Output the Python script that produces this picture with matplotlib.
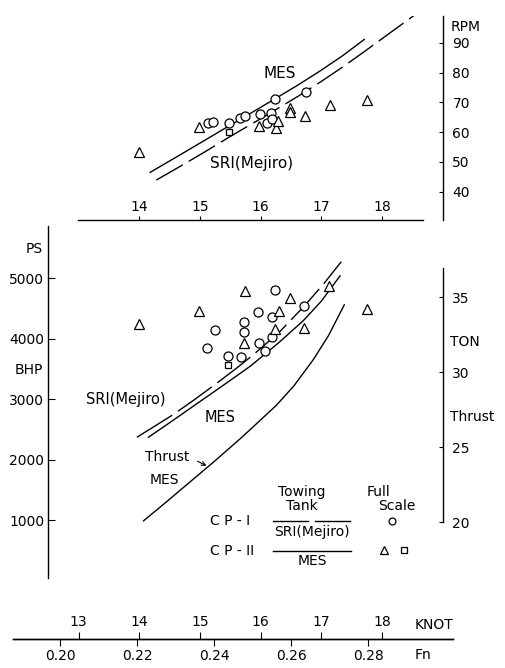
import matplotlib
matplotlib.use("Agg")
import matplotlib.pyplot as plt
from matplotlib.lines import Line2D
from matplotlib.ticker import FixedLocator

# ---- data, speed in knots ----
# upper panel: propeller revolutions (RPM)
rpm_circ_kn = [15.13, 15.22, 15.48, 15.66, 15.75, 15.99, 16.10, 16.17, 16.18, 16.24, 16.75]
rpm_circ = [63.0, 63.5, 63.0, 64.8, 65.3, 66.2, 63.0, 66.5, 64.5, 71.0, 73.3]
rpm_tri_kn = [14.0, 14.98, 15.98, 16.25, 16.29, 16.48, 16.49, 16.73, 17.14, 17.75]
rpm_tri = [53.2, 61.8, 62.0, 61.5, 63.8, 68.2, 66.6, 65.3, 69.1, 70.8]
rpm_sq_kn = [15.48]
rpm_sq = [60.1]
rpm_mes_kn = [14.18, 14.6, 15.0, 15.49, 15.9, 16.24, 16.6, 16.98, 17.35, 17.71]
rpm_mes = [46.5, 51.5, 56.3, 62.2, 67.1, 71.2, 75.6, 80.5, 85.6, 91.1]
rpm_sri_kn = [14.28, 14.7, 15.1, 15.48, 15.9, 16.24, 16.6, 17.0, 17.35, 17.71, 18.1, 18.54]
rpm_sri = [43.9, 48.8, 53.6, 58.3, 63.3, 67.4, 71.8, 77.0, 81.8, 87.0, 92.8, 99.3]

# lower panel: brake horse power (PS) and thrust (TON)
bhp_circ_kn = [16.24, 16.72, 15.95, 16.18, 15.73, 15.73, 15.24, 15.12, 15.98, 16.18, 16.07, 15.47, 15.67]
bhp_circ = [4806, 4546, 4436, 4364, 4281, 4116, 4144, 3841, 3924, 4033, 3802, 3714, 3692]
bhp_tri_kn = [14.0, 14.99, 15.74, 15.73, 16.31, 16.24, 16.48, 16.71, 17.13, 17.75]
bhp_tri = [4238, 4459, 4795, 3924, 4453, 4165, 4669, 4182, 4872, 4487]
bhp_sq_kn = [15.47]
bhp_sq = [3565]
bhp_sri_kn = [13.96, 14.25, 14.56, 14.9, 15.28, 15.6, 15.88, 16.3, 16.72, 17.05, 17.33]
bhp_sri = [2369, 2550, 2745, 2985, 3265, 3510, 3735, 4100, 4540, 4920, 5274]
bhp_mes_kn = [14.15, 14.5, 15.0, 15.4, 15.83, 16.3, 16.7, 17.0, 17.31]
bhp_mes = [2369, 2610, 2960, 3240, 3545, 3935, 4295, 4620, 5040]
thr_mes_kn = [14.07, 14.4, 14.78, 15.22, 15.7, 16.26, 16.55, 16.87, 17.12, 17.38]
thr_mes = [20.1, 21.2, 22.5, 24.0, 25.7, 27.8, 29.1, 30.85, 32.45, 34.5]

knot_ticks = [13, 14, 15, 16, 17, 18]
fn_ticks = [0.20, 0.22, 0.24, 0.26, 0.28]
FN_PER_KNOT = 0.015754

# ---- layout helpers (pixels of the 505x668 picture) ----
W, H = 505, 668


def kn(px):
    return 14 + (px - 139.3) / 60.65


def box(x0, y0, x1, y1):
    return [x0 / W, 1 - y1 / H, (x1 - x0) / W, (y1 - y0) / H]


def P(px, py):
    return (px / W, 1 - py / H)


def rpm_at(py):
    return 40 + (191.7 - py) / 2.98


def ps_at(py):
    return 1000 + (520 - py) / 60.43 * 1000


def ton_at(py):
    return 20 + (522.3 - py) / 15.0


plt.rcParams['font.family'] = ['DejaVu Sans']
plt.rcParams['font.size'] = 10
LW = 1.0
mk = dict(ls='none', mfc='white', mec='black', mew=0.9, zorder=3)

fig = plt.figure(figsize=(5.05, 6.68), dpi=100)

# ---- upper panel ----
ax1 = fig.add_axes(box(78, 16, 442.7, 220))
ax1.set_xlim(kn(78), kn(442.7))
ax1.set_ylim(rpm_at(220), rpm_at(16))
ax1.patch.set_visible(False)
for s in ['left', 'top']:
    ax1.spines[s].set_visible(False)
ax1.spines['bottom'].set_bounds(kn(78), kn(423))
ax1.spines['bottom'].set_linewidth(1.0)
ax1.spines['right'].set_linewidth(1.0)
ax1.yaxis.tick_right()
ax1.set_yticks([40, 50, 60, 70, 80, 90])
ax1.tick_params(axis='y', direction='in', length=3, pad=7, labelsize=10)
ax1.set_xticks([14, 15, 16, 17, 18])
ax1.tick_params(axis='x', direction='in', length=3, pad=-14.5, labelsize=10)

ax1.plot(rpm_mes_kn, rpm_mes, color='black', lw=LW)
ax1.plot(rpm_sri_kn, rpm_sri, color='black', lw=LW, dashes=(22, 5))
ax1.plot(rpm_circ_kn, rpm_circ, marker='o', ms=6.5, **mk)
ax1.plot(rpm_tri_kn, rpm_tri, marker='^', ms=6.5, **mk)
ax1.plot(rpm_sq_kn, rpm_sq, marker='s', ms=5, **mk)

fig.text(*P(280, 74), 'MES', ha='center', va='center', fontsize=11)
fig.text(*P(252, 163), 'SRI(Mejiro)', ha='center', va='center', fontsize=11)
fig.text(*P(451, 27), 'RPM', ha='left', va='center', fontsize=10)

# ---- lower panel ----
ax2 = fig.add_axes(box(48.3, 226, 443.3, 578))
ax2.set_xlim(kn(48.3), kn(443.3))
ax2.set_ylim(ps_at(578), ps_at(226))
ax2.patch.set_visible(False)
for s in ['top', 'right', 'bottom']:
    ax2.spines[s].set_visible(False)
ax2.spines['left'].set_linewidth(1.0)
ax2.set_xticks([])
ax2.set_yticks([1000, 2000, 3000, 4000, 5000])
ax2.tick_params(axis='y', direction='in', length=5, pad=3, labelsize=10)

ax2t = ax2.twinx()
ax2t.set_ylim(ton_at(578), ton_at(226))
for s in ['top', 'left', 'bottom']:
    ax2t.spines[s].set_visible(False)
ax2t.spines['right'].set_bounds(20, ton_at(268.3))
ax2t.spines['right'].set_linewidth(1.0)
ax2t.set_yticks([20, 25, 30, 35])
ax2t.yaxis.set_minor_locator(FixedLocator([20, 30]))
ax2t.tick_params(axis='y', which='major', direction='in', length=3, pad=6, labelsize=10)
ax2t.tick_params(axis='y', which='minor', direction='in', length=8)

ax2.plot(bhp_sri_kn, bhp_sri, color='black', lw=LW, dashes=(30, 5))
ax2.plot(bhp_mes_kn, bhp_mes, color='black', lw=LW)
ax2t.plot(thr_mes_kn, thr_mes, color='black', lw=LW)
ax2.plot(bhp_circ_kn, bhp_circ, marker='o', ms=6.5, **mk)
ax2.plot(bhp_tri_kn, bhp_tri, marker='^', ms=6.5, **mk)
ax2.plot(bhp_sq_kn, bhp_sq, marker='s', ms=5, **mk)

fig.text(*P(43, 249), 'PS', ha='right', va='center', fontsize=10)
fig.text(*P(43, 370), 'BHP', ha='right', va='center', fontsize=10)
fig.text(*P(450, 342), 'TON', ha='left', va='center', fontsize=10)
fig.text(*P(450, 417), 'Thrust', ha='left', va='center', fontsize=10)
fig.text(*P(126, 400), 'SRI(Mejiro)', ha='center', va='center', fontsize=10.5)
fig.text(*P(220, 417), 'MES', ha='center', va='center', fontsize=10.5)
fig.text(*P(167, 457), 'Thrust', ha='center', va='center', fontsize=10)
fig.text(*P(164, 480), 'MES', ha='center', va='center', fontsize=10)
fig.add_artist(matplotlib.patches.FancyArrowPatch(
    P(195, 460), P(209, 467), transform=fig.transFigure,
    arrowstyle='->', mutation_scale=7, lw=0.8, color='black'))

# ---- key ----
fig.text(*P(302, 492), 'Towing', ha='center', va='center', fontsize=10)
fig.text(*P(302, 506), 'Tank', ha='center', va='center', fontsize=10)
fig.text(*P(378, 492), 'Full', ha='center', va='center', fontsize=10)
fig.text(*P(397, 506), 'Scale', ha='center', va='center', fontsize=10)
fig.text(*P(210, 521), 'C P - I', ha='left', va='center', fontsize=10)
fig.text(*P(210, 551), 'C P - II', ha='left', va='center', fontsize=10)
fig.text(*P(312, 532), 'SRI(Mejiro)', ha='center', va='center', fontsize=10)
fig.text(*P(312, 561), 'MES', ha='center', va='center', fontsize=10)
for x0, x1, y in [(273, 308, 520.5), (315, 350, 520.5), (273, 351, 550.5)]:
    fig.add_artist(Line2D([x0 / W, x1 / W], [1 - y / H, 1 - y / H], color='black', lw=LW))
fig.add_artist(Line2D([392 / W], [1 - 521 / H], marker='o', ms=5, **mk))
fig.add_artist(Line2D([384 / W], [1 - 550 / H], marker='^', ms=5.5, **mk))
fig.add_artist(Line2D([404 / W], [1 - 550 / H], marker='s', ms=4, **mk))

# ---- speed scale: knots above, Froude number below ----
ax3 = fig.add_axes(box(13, 639, 453, 639.3))
ax3.set_xlim(kn(13), kn(453))
ax3.set_yticks([])
ax3.patch.set_visible(False)
for s in ['left', 'right', 'top']:
    ax3.spines[s].set_visible(False)
ax3.spines['bottom'].set_linewidth(1.0)
ax3.xaxis.tick_top()
ax3.set_xticks(knot_ticks)
ax3.tick_params(axis='x', direction='out', length=5, pad=2, labelsize=10)

sec = ax3.secondary_xaxis('bottom', functions=(lambda k: k * FN_PER_KNOT,
                                               lambda f: f / FN_PER_KNOT))
sec.set_xticks(fn_ticks)
sec.set_xticklabels(['%.2f' % f for f in fn_ticks])
sec.tick_params(axis='x', direction='out', length=5, pad=2, labelsize=10)
sec.spines['bottom'].set_linewidth(1.0)

fig.text(*P(415, 625), 'KNOT', ha='left', va='center', fontsize=10)
fig.text(*P(415, 655), 'Fn', ha='left', va='center', fontsize=10)

fig.savefig('out.png', dpi=100)
